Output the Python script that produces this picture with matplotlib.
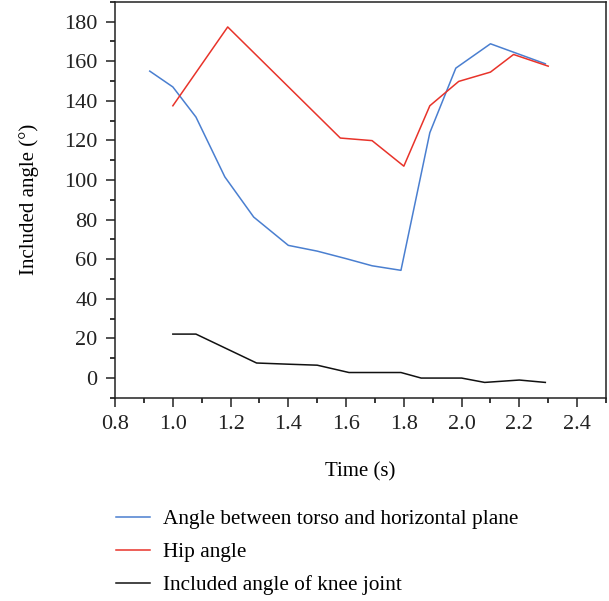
import matplotlib.pyplot as plt
from matplotlib.ticker import MultipleLocator

plt.rcParams["font.family"] = ["Liberation Serif", "DejaVu Serif"]

time_torso = [0.92, 1.0, 1.08, 1.18, 1.28, 1.40, 1.50, 1.60, 1.69, 1.79, 1.89, 1.98, 2.10, 2.29]
torso = [155, 147, 131.8, 101.6, 81.3, 67, 64.1, 60.3, 56.7, 54.4, 123.9, 156.5, 168.8, 158.7]

time_hip = [1.0, 1.19, 1.58, 1.69, 1.80, 1.89, 1.99, 2.10, 2.18, 2.30]
hip = [137.5, 177.3, 121.2, 119.9, 107, 137.5, 149.8, 154.5, 163.4, 157.5]

time_knee = [1.0, 1.08, 1.29, 1.40, 1.50, 1.61, 1.79, 1.86, 2.0, 2.08, 2.2, 2.29]
knee = [22.2, 22.2, 7.6, 7.0, 6.5, 2.8, 2.8, 0, 0, -2.2, -1.0, -2.2]

labels = ["Angle between torso and horizontal plane", "Hip angle",
          "Included angle of knee joint"]

fig = plt.figure(figsize=(6.09, 6.01), dpi=100)
ax = fig.add_axes([0.189, 0.338, 0.806, 0.659])
l1, = ax.plot(time_torso, torso, color="#4a7fd0", lw=1.1)
l2, = ax.plot(time_hip, hip, color="#e8332a", lw=1.1)
l3, = ax.plot(time_knee, knee, color="#111111", lw=1.1)

ax.set_xlim(0.8, 2.5)
ax.set_ylim(-10, 190)
ax.set_xticks([0.8, 1.0, 1.2, 1.4, 1.6, 1.8, 2.0, 2.2, 2.4])
ax.set_xticklabels(["0.8", "1.0", "1.2", "1.4", "1.6", "1.8", "2.0", "2.2", "2.4"])
ax.set_yticks(range(0, 181, 20))
ax.xaxis.set_minor_locator(MultipleLocator(0.1))
ax.yaxis.set_minor_locator(MultipleLocator(10))
ax.tick_params(which="major", direction="out", length=6.5, width=1.1, labelsize=16,
               pad=6, colors="#222222")
ax.tick_params(which="minor", direction="out", length=3.6, width=1.1)
for s in ax.spines.values():
    s.set_linewidth(1.1)
    s.set_color("#222222")

ax.set_xlabel("Time (s)", fontsize=15, labelpad=20)
ax.set_ylabel("Included angle (°)", fontsize=15, labelpad=18)

fig.legend([l1, l2, l3], labels, loc="upper left", bbox_to_anchor=(0.177, 0.167),
           frameon=False, fontsize=15.3, handlelength=1.6, handletextpad=0.62,
           labelspacing=0.62, borderaxespad=0)

fig.savefig("out.png", dpi=100)
